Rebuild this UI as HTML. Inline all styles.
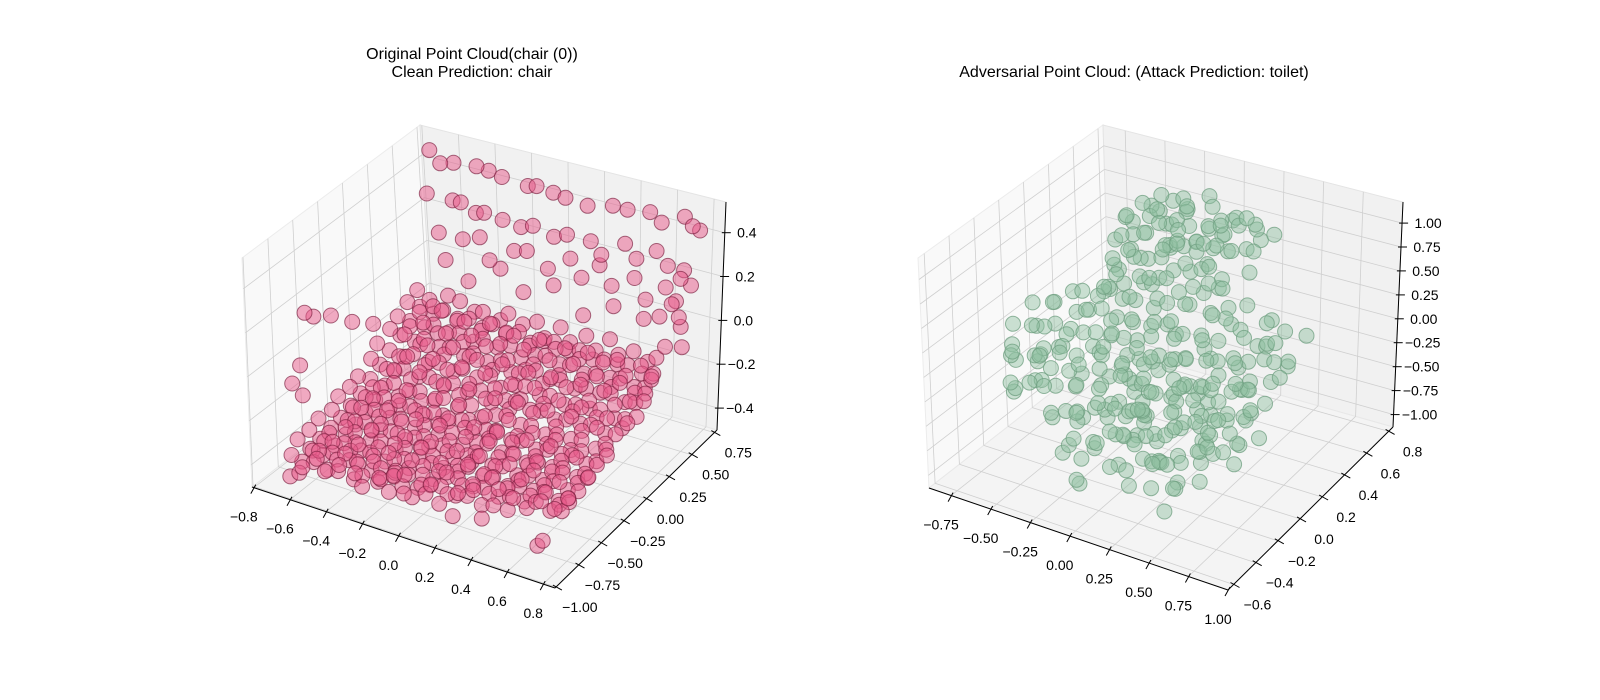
<!DOCTYPE html>
<html><head><meta charset="utf-8">
<style>
html,body{margin:0;padding:0;background:#fff;}
svg{display:block;font-family:"Liberation Sans","DejaVu Sans",sans-serif;}
</style></head>
<body>
<svg id="fig" width="1600" height="700" viewBox="0 0 1600 700" xmlns="http://www.w3.org/2000/svg">
<rect x="0" y="0" width="1600" height="700" fill="#fff"/>
<g id="left"></g>
<g id="right"></g>
<text x="472" y="59" font-size="16" text-anchor="middle">Original Point Cloud(chair (0))</text>
<text x="472" y="77" font-size="16" text-anchor="middle">Clean Prediction: chair</text>
<text x="1134" y="77" font-size="16" text-anchor="middle">Adversarial Point Cloud: (Attack Prediction: toilet)</text>
</svg>
<script>
// ---- data: left (chair) ----
const leftXTicks = [-0.8,-0.6,-0.4,-0.2,0.0,0.2,0.4,0.6,0.8];
const leftXLabels = ["−0.8","−0.6","−0.4","−0.2","0.0","0.2","0.4","0.6","0.8"];
const leftYTicks = [-1.0,-0.75,-0.5,-0.25,0.0,0.25,0.5,0.75];
const leftYLabels = ["−1.00","−0.75","−0.50","−0.25","0.00","0.25","0.50","0.75"];
const leftZTicks = [-0.4,-0.2,0.0,0.2,0.4];
const leftZLabels = ["−0.4","−0.2","0.0","0.2","0.4"];
const chairPoints = [
[-0.68,-0.84,-0.38],[-0.61,-0.86,-0.41],[-0.55,-0.82,-0.37],[-0.49,-0.85,-0.40],[-0.42,-0.83,-0.36],[-0.35,-0.8,-0.39],[-0.29,-0.84,-0.42],[-0.22,-0.79,-0.38],[-0.15,-0.77,-0.36],[-0.08,-0.8,-0.41],
[-0.7,-0.74,-0.35],[-0.63,-0.72,-0.39],[-0.57,-0.76,-0.36],[-0.5,-0.71,-0.4],[-0.43,-0.75,-0.34],[-0.37,-0.73,-0.38],[-0.3,-0.7,-0.36],[-0.24,-0.74,-0.41],[-0.17,-0.72,-0.37],[-0.1,-0.75,-0.35],[-0.03,-0.71,-0.39],[0.04,-0.74,-0.36],[0.11,-0.7,-0.4],[0.18,-0.72,-0.37],[0.25,-0.69,-0.35],
[-0.69,-0.64,-0.34],[-0.62,-0.62,-0.38],[-0.55,-0.66,-0.35],[-0.48,-0.61,-0.39],[-0.41,-0.65,-0.33],[-0.34,-0.63,-0.37],[-0.27,-0.6,-0.35],[-0.2,-0.66,-0.39],[-0.13,-0.62,-0.34],[-0.06,-0.64,-0.38],[0.01,-0.6,-0.36],[0.08,-0.65,-0.33],[0.15,-0.62,-0.38],[0.22,-0.64,-0.35],[0.29,-0.6,-0.39],[0.36,-0.63,-0.34],[0.43,-0.61,-0.37],[0.5,-0.6,-0.4],[0.57,-0.58,-0.36],[0.64,-0.57,-0.38],
[-0.7,-0.53,-0.33],[-0.63,-0.55,-0.37],[-0.56,-0.51,-0.34],[-0.49,-0.54,-0.38],[-0.42,-0.5,-0.32],[-0.35,-0.56,-0.36],[-0.28,-0.52,-0.34],[-0.21,-0.55,-0.38],[-0.14,-0.5,-0.33],[-0.07,-0.53,-0.37],[0.0,-0.56,-0.34],[0.07,-0.51,-0.38],[0.14,-0.54,-0.32],[0.21,-0.5,-0.36],[0.28,-0.55,-0.34],[0.35,-0.52,-0.38],[0.42,-0.5,-0.33],[0.49,-0.54,-0.37],[0.56,-0.51,-0.35],[0.63,-0.5,-0.39],[0.69,-0.52,-0.34],
[-0.68,-0.43,-0.32],[-0.61,-0.4,-0.36],[-0.54,-0.45,-0.33],[-0.47,-0.41,-0.37],[-0.4,-0.44,-0.31],[-0.33,-0.4,-0.35],[-0.26,-0.45,-0.33],[-0.19,-0.42,-0.37],[-0.12,-0.44,-0.32],[-0.05,-0.4,-0.36],[0.02,-0.43,-0.33],[0.09,-0.41,-0.37],[0.16,-0.45,-0.31],[0.23,-0.42,-0.35],[0.3,-0.4,-0.33],[0.37,-0.44,-0.37],[0.44,-0.41,-0.32],[0.51,-0.43,-0.36],[0.58,-0.4,-0.34],[0.65,-0.44,-0.38],
[-0.7,-0.33,-0.3],[-0.63,-0.31,-0.34],[-0.56,-0.35,-0.31],[-0.49,-0.3,-0.35],[-0.42,-0.34,-0.29],[-0.35,-0.32,-0.33],[-0.28,-0.3,-0.31],[-0.21,-0.35,-0.35],[-0.14,-0.31,-0.3],[-0.07,-0.34,-0.34],[0.0,-0.3,-0.32],[0.07,-0.33,-0.36],[0.14,-0.31,-0.3],[0.21,-0.35,-0.34],[0.28,-0.32,-0.32],[0.35,-0.3,-0.36],[0.42,-0.34,-0.31],[0.49,-0.31,-0.35],[0.56,-0.33,-0.33],[0.63,-0.3,-0.37],[0.7,-0.32,-0.32],
[-0.69,-0.23,-0.29],[-0.62,-0.2,-0.33],[-0.55,-0.25,-0.3],[-0.48,-0.21,-0.34],[-0.41,-0.24,-0.28],[-0.34,-0.2,-0.32],[-0.27,-0.25,-0.3],[-0.2,-0.22,-0.34],[-0.13,-0.24,-0.29],[-0.06,-0.2,-0.33],[0.01,-0.23,-0.3],[0.08,-0.21,-0.34],[0.15,-0.25,-0.28],[0.22,-0.22,-0.32],[0.29,-0.2,-0.3],[0.36,-0.24,-0.34],[0.43,-0.21,-0.29],[0.5,-0.23,-0.33],[0.57,-0.2,-0.31],[0.64,-0.24,-0.35],
[-0.7,-0.13,-0.28],[-0.63,-0.11,-0.32],[-0.56,-0.15,-0.29],[-0.49,-0.1,-0.33],[-0.42,-0.14,-0.27],[-0.35,-0.12,-0.31],[-0.28,-0.1,-0.29],[-0.21,-0.15,-0.33],[-0.14,-0.11,-0.28],[-0.07,-0.14,-0.32],[0.0,-0.1,-0.3],[0.07,-0.13,-0.34],[0.14,-0.11,-0.28],[0.21,-0.15,-0.32],[0.28,-0.12,-0.3],[0.35,-0.1,-0.34],[0.42,-0.14,-0.29],[0.49,-0.11,-0.33],[0.56,-0.13,-0.31],[0.63,-0.1,-0.35],[0.7,-0.12,-0.3],
[-0.68,-0.03,-0.23],[-0.61,0.0,-0.27],[-0.54,-0.05,-0.24],[-0.47,-0.01,-0.28],[-0.4,-0.04,-0.22],[-0.33,0.0,-0.26],[-0.26,-0.05,-0.24],[-0.19,-0.02,-0.28],[-0.12,-0.04,-0.23],[-0.05,0.0,-0.27],[0.02,-0.03,-0.24],[0.09,-0.01,-0.28],[0.16,-0.05,-0.22],[0.23,-0.02,-0.26],[0.3,0.0,-0.24],[0.37,-0.04,-0.28],[0.44,-0.01,-0.23],[0.51,-0.03,-0.27],[0.58,0.0,-0.25],[0.65,-0.04,-0.29],
[-0.7,0.07,-0.2],[-0.59,0.09,-0.24],[-0.52,0.05,-0.21],[-0.45,0.1,-0.25],[-0.38,0.06,-0.19],[-0.31,0.08,-0.23],[-0.24,0.1,-0.21],[-0.17,0.05,-0.25],[-0.1,0.09,-0.2],[-0.03,0.06,-0.24],[0.04,0.1,-0.22],[0.11,0.07,-0.26],[0.18,0.09,-0.2],[0.25,0.05,-0.24],[0.32,0.08,-0.22],[0.39,0.1,-0.26],[0.46,0.06,-0.21],[0.53,0.09,-0.25],[0.6,0.07,-0.23],[0.67,0.1,-0.27],[0.72,0.06,-0.22],
[-0.7,0.2,-0.18],[-0.6,0.17,-0.17],[-0.53,0.2,-0.21],[-0.46,0.15,-0.18],[-0.39,0.19,-0.22],[-0.32,0.16,-0.16],[-0.25,0.2,-0.2],[-0.18,0.15,-0.18],[-0.11,0.18,-0.22],[-0.04,0.16,-0.17],[0.03,0.2,-0.21],[0.1,0.17,-0.18],[0.17,0.19,-0.22],[0.24,0.15,-0.16],[0.31,0.18,-0.2],[0.38,0.2,-0.18],[0.45,0.16,-0.22],[0.52,0.19,-0.17],[0.59,0.17,-0.21],[0.66,0.2,-0.19],[0.72,0.16,-0.23],
[-0.7,0.28,-0.15],[-0.62,0.26,-0.17],[-0.55,0.27,-0.14],[-0.48,0.29,-0.18],[-0.41,0.25,-0.15],[-0.34,0.3,-0.19],[-0.27,0.26,-0.13],[-0.2,0.28,-0.17],[-0.13,0.3,-0.15],[-0.06,0.25,-0.19],[0.01,0.29,-0.14],[0.08,0.26,-0.18],[0.15,0.3,-0.16],[0.22,0.27,-0.2],[0.29,0.29,-0.14],[0.36,0.25,-0.18],[0.43,0.28,-0.16],[0.5,0.3,-0.2],[0.57,0.26,-0.15],[0.64,0.29,-0.19],[0.71,0.27,-0.17],
[-0.7,0.38,-0.12],[-0.62,0.36,-0.14],[-0.56,0.39,-0.11],[-0.5,0.37,-0.11],[-0.43,0.4,-0.15],[-0.36,0.35,-0.12],[-0.29,0.39,-0.16],[-0.22,0.36,-0.1],[-0.15,0.4,-0.14],[-0.08,0.35,-0.12],[-0.01,0.38,-0.16],[0.06,0.36,-0.11],[0.13,0.4,-0.15],[0.2,0.37,-0.12],[0.27,0.39,-0.16],[0.34,0.35,-0.1],[0.41,0.38,-0.14],[0.48,0.4,-0.12],[0.55,0.36,-0.16],[0.62,0.39,-0.11],[0.69,0.37,-0.15],
[-0.7,0.48,-0.1],[-0.62,0.46,-0.12],[-0.53,0.49,-0.09],[-0.45,0.47,-0.09],[-0.38,0.49,-0.13],[-0.31,0.45,-0.1],[-0.24,0.5,-0.14],[-0.17,0.46,-0.08],[-0.1,0.48,-0.12],[-0.03,0.5,-0.1],[0.04,0.45,-0.14],[0.11,0.49,-0.09],[0.18,0.46,-0.13],[0.25,0.5,-0.1],[0.32,0.47,-0.14],[0.39,0.49,-0.08],[0.46,0.45,-0.12],[0.53,0.48,-0.1],[0.6,0.5,-0.14],[0.67,0.46,-0.09],
[-0.65,-0.79,-0.42],[-0.58,-0.8,-0.4],[-0.52,-0.77,-0.43],[-0.45,-0.79,-0.41],[-0.38,-0.76,-0.44],[-0.32,-0.78,-0.4],[-0.25,-0.75,-0.42],[-0.18,-0.77,-0.44],[-0.12,-0.74,-0.41],[-0.05,-0.77,-0.43],[0.02,-0.76,-0.4],[0.09,-0.75,-0.43],
[-0.66,-0.69,-0.4],[-0.6,-0.67,-0.42],[-0.53,-0.7,-0.38],[-0.46,-0.66,-0.41],[-0.4,-0.69,-0.39],[-0.33,-0.67,-0.42],[-0.26,-0.7,-0.38],[-0.2,-0.68,-0.41],[-0.13,-0.66,-0.39],[-0.06,-0.69,-0.42],[0.0,-0.67,-0.4],[0.07,-0.69,-0.38],[0.14,-0.67,-0.41],[0.21,-0.68,-0.39],[0.28,-0.66,-0.42],[0.35,-0.67,-0.4],[0.42,-0.65,-0.41],
[-0.66,-0.59,-0.39],[-0.59,-0.57,-0.41],[-0.52,-0.6,-0.37],[-0.45,-0.56,-0.4],[-0.38,-0.59,-0.38],[-0.31,-0.57,-0.41],[-0.24,-0.6,-0.37],[-0.17,-0.58,-0.4],[-0.1,-0.56,-0.38],[-0.03,-0.59,-0.41],[0.04,-0.57,-0.39],[0.11,-0.59,-0.37],[0.18,-0.56,-0.4],[0.25,-0.58,-0.38],[0.32,-0.56,-0.41],[0.39,-0.57,-0.39],[0.46,-0.55,-0.4],[0.53,-0.56,-0.38],[0.6,-0.54,-0.41],[0.67,-0.55,-0.39],
[-0.66,-0.48,-0.38],[-0.59,-0.46,-0.4],[-0.52,-0.49,-0.36],[-0.45,-0.46,-0.39],[-0.38,-0.48,-0.37],[-0.31,-0.46,-0.4],[-0.24,-0.49,-0.36],[-0.17,-0.47,-0.39],[-0.1,-0.46,-0.37],[-0.03,-0.48,-0.4],[0.04,-0.46,-0.38],[0.11,-0.48,-0.36],[0.18,-0.46,-0.39],[0.25,-0.48,-0.37],[0.32,-0.46,-0.4],[0.39,-0.47,-0.38],[0.46,-0.45,-0.39],[0.53,-0.47,-0.37],[0.6,-0.45,-0.4],[0.67,-0.47,-0.38],
[-0.66,-0.38,-0.37],[-0.59,-0.36,-0.39],[-0.52,-0.39,-0.35],[-0.45,-0.36,-0.38],[-0.38,-0.38,-0.36],[-0.31,-0.36,-0.39],[-0.24,-0.39,-0.35],[-0.17,-0.37,-0.38],[-0.1,-0.36,-0.36],[-0.03,-0.38,-0.39],[0.04,-0.36,-0.37],[0.11,-0.38,-0.35],[0.18,-0.36,-0.38],[0.25,-0.38,-0.36],[0.32,-0.36,-0.39],[0.39,-0.37,-0.37],[0.46,-0.35,-0.38],[0.53,-0.37,-0.36],[0.6,-0.35,-0.39],[0.67,-0.37,-0.37],
[-0.66,-0.28,-0.35],[-0.59,-0.26,-0.37],[-0.52,-0.29,-0.33],[-0.45,-0.26,-0.36],[-0.38,-0.28,-0.34],[-0.31,-0.26,-0.37],[-0.24,-0.29,-0.33],[-0.17,-0.27,-0.36],[-0.1,-0.26,-0.34],[-0.03,-0.28,-0.37],[0.04,-0.26,-0.35],[0.11,-0.28,-0.33],[0.18,-0.26,-0.36],[0.25,-0.28,-0.34],[0.32,-0.26,-0.37],[0.39,-0.27,-0.35],[0.46,-0.25,-0.36],[0.53,-0.27,-0.34],[0.6,-0.25,-0.37],[0.67,-0.27,-0.35],
[-0.66,-0.18,-0.33],[-0.59,-0.16,-0.35],[-0.52,-0.19,-0.31],[-0.45,-0.16,-0.34],[-0.38,-0.18,-0.32],[-0.31,-0.16,-0.35],[-0.24,-0.19,-0.31],[-0.17,-0.17,-0.34],[-0.1,-0.16,-0.32],[-0.03,-0.18,-0.35],[0.04,-0.16,-0.33],[0.11,-0.18,-0.31],[0.18,-0.16,-0.34],[0.25,-0.18,-0.32],[0.32,-0.16,-0.35],[0.39,-0.17,-0.33],[0.46,-0.15,-0.34],[0.53,-0.17,-0.32],[0.6,-0.15,-0.35],[0.67,-0.17,-0.33],
[-0.66,-0.08,-0.3],[-0.59,-0.06,-0.32],[-0.52,-0.09,-0.28],[-0.45,-0.06,-0.31],[-0.38,-0.08,-0.29],[-0.31,-0.06,-0.32],[-0.24,-0.09,-0.28],[-0.17,-0.07,-0.31],[-0.1,-0.06,-0.29],[-0.03,-0.08,-0.32],[0.04,-0.06,-0.3],[0.11,-0.08,-0.28],[0.18,-0.06,-0.31],[0.25,-0.08,-0.29],[0.32,-0.06,-0.32],[0.39,-0.07,-0.3],[0.46,-0.05,-0.31],[0.53,-0.07,-0.29],[0.6,-0.05,-0.32],[0.67,-0.07,-0.3],
[-0.66,0.02,-0.27],[-0.59,0.04,-0.29],[-0.52,0.01,-0.25],[-0.45,0.04,-0.28],[-0.38,0.02,-0.26],[-0.31,0.04,-0.29],[-0.24,0.01,-0.25],[-0.17,0.03,-0.28],[-0.1,0.04,-0.26],[-0.03,0.02,-0.29],[0.04,0.04,-0.27],[0.11,0.02,-0.25],[0.18,0.04,-0.28],[0.25,0.02,-0.26],[0.32,0.04,-0.29],[0.39,0.03,-0.27],[0.46,0.05,-0.28],[0.53,0.03,-0.26],[0.6,0.05,-0.29],[0.67,0.03,-0.27],
[-0.66,0.12,-0.24],[-0.59,0.14,-0.26],[-0.52,0.11,-0.22],[-0.45,0.14,-0.25],[-0.38,0.12,-0.23],[-0.31,0.14,-0.26],[-0.24,0.11,-0.22],[-0.17,0.13,-0.25],[-0.1,0.14,-0.23],[-0.03,0.12,-0.26],[0.04,0.14,-0.24],[0.11,0.12,-0.22],[0.18,0.14,-0.25],[0.25,0.12,-0.23],[0.32,0.14,-0.26],[0.39,0.13,-0.24],[0.46,0.15,-0.25],[0.53,0.13,-0.23],[0.6,0.15,-0.26],[0.67,0.13,-0.24],
[-0.66,0.23,-0.21],[-0.59,0.25,-0.23],[-0.52,0.22,-0.19],[-0.45,0.25,-0.22],[-0.38,0.23,-0.2],[-0.31,0.25,-0.23],[-0.24,0.22,-0.19],[-0.17,0.24,-0.22],[-0.1,0.25,-0.2],[-0.03,0.23,-0.23],[0.04,0.25,-0.21],[0.11,0.23,-0.19],[0.18,0.25,-0.22],[0.25,0.23,-0.2],[0.32,0.25,-0.23],[0.39,0.24,-0.21],[0.46,0.26,-0.22],[0.53,0.24,-0.2],[0.6,0.26,-0.23],[0.67,0.24,-0.21],
[-0.66,0.33,-0.18],[-0.59,0.35,-0.2],[-0.52,0.32,-0.16],[-0.45,0.35,-0.19],[-0.38,0.33,-0.17],[-0.31,0.35,-0.2],[-0.24,0.32,-0.16],[-0.17,0.34,-0.19],[-0.1,0.35,-0.17],[-0.03,0.33,-0.2],[0.04,0.35,-0.18],[0.11,0.33,-0.16],[0.18,0.35,-0.19],[0.25,0.33,-0.17],[0.32,0.35,-0.2],[0.39,0.34,-0.18],[0.46,0.36,-0.19],[0.53,0.34,-0.17],[0.6,0.36,-0.2],[0.67,0.34,-0.18],
[-0.66,0.43,-0.15],[-0.59,0.44,-0.17],[-0.52,0.42,-0.13],[-0.45,0.44,-0.16],[-0.38,0.43,-0.14],[-0.31,0.44,-0.17],[-0.24,0.42,-0.13],[-0.17,0.43,-0.16],[-0.1,0.44,-0.14],[-0.03,0.43,-0.17],[0.04,0.44,-0.15],[0.11,0.42,-0.13],[0.18,0.44,-0.16],[0.25,0.43,-0.14],[0.32,0.44,-0.17],[0.39,0.43,-0.15],[0.46,0.44,-0.16],[0.53,0.42,-0.14],[0.6,0.44,-0.17],[0.67,0.43,-0.15],
[-0.72,0.7,0.47],[-0.64,0.66,0.44],[-0.6,0.72,0.43],[-0.45,0.68,0.46],[-0.4,0.71,0.44],[-0.3,0.66,0.45],[-0.18,0.7,0.42],[-0.12,0.68,0.44],[-0.05,0.72,0.41],[0.05,0.66,0.43],[0.15,0.7,0.4],[0.3,0.68,0.44],[0.36,0.72,0.42],[0.5,0.69,0.45],[0.58,0.66,0.43],[0.68,0.71,0.46],[0.74,0.68,0.44],[0.76,0.72,0.41],
[-0.7,0.62,0.3],[-0.58,0.66,0.28],[-0.5,0.6,0.31],[-0.44,0.64,0.26],[-0.36,0.58,0.3],[-0.28,0.62,0.27],[-0.2,0.66,0.24],[-0.1,0.6,0.29],[0.0,0.63,0.25],[0.1,0.58,0.3],[0.2,0.64,0.27],[0.28,0.6,0.24],[0.38,0.66,0.29],[0.47,0.61,0.26],[0.56,0.65,0.3],[0.65,0.6,0.27],[0.72,0.64,0.25],
[-0.62,0.58,0.15],[-0.52,0.64,0.12],[-0.4,0.6,0.17],[-0.32,0.55,0.1],[-0.22,0.62,0.14],[-0.12,0.57,0.18],[-0.02,0.6,0.11],[0.08,0.65,0.16],[0.18,0.58,0.12],[0.26,0.62,0.18],[0.36,0.56,0.13],[0.45,0.63,0.16],[0.54,0.58,0.1],[0.62,0.64,0.15],[0.7,0.6,0.12],[0.75,0.66,0.18],
[-0.6,0.6,0.02],[-0.45,0.56,-0.03],[-0.3,0.62,0.04],[-0.15,0.58,-0.02],[0.0,0.62,0.03],[0.2,0.56,-0.04],[0.35,0.6,0.02],[0.5,0.64,-0.02],[0.62,0.58,0.04],[0.72,0.62,0.0],[0.76,0.56,-0.06],
[0.78,0.4,0.2],[0.8,0.3,0.05],[0.78,0.2,-0.05],[0.8,0.45,0.3],[0.79,0.1,-0.12],[0.77,0.5,0.1],
[-0.74,-0.55,0.15],[-0.72,-0.5,0.12],[-0.68,-0.4,0.1],[-0.62,-0.3,0.05],[-0.56,-0.2,0.02],[-0.72,-0.65,-0.05],[-0.74,-0.7,-0.12],[-0.73,-0.62,-0.2],
[0.62,-0.72,-0.49],[0.64,-0.7,-0.47],[-0.68,-0.86,-0.47],[-0.64,-0.84,-0.45],[0.18,-0.78,-0.45],[0.3,-0.7,-0.46]
];
// ---- data: right (toilet / adversarial) ----
const rightXTicks = [-0.75,-0.5,-0.25,0.0,0.25,0.5,0.75,1.0];
const rightXLabels = ["−0.75","−0.50","−0.25","0.00","0.25","0.50","0.75","1.00"];
const rightYTicks = [-0.6,-0.4,-0.2,0.0,0.2,0.4,0.6,0.8];
const rightYLabels = ["−0.6","−0.4","−0.2","0.0","0.2","0.4","0.6","0.8"];
const rightZTicks = [-1.0,-0.75,-0.5,-0.25,0.0,0.25,0.5,0.75,1.0];
const rightZLabels = ["−1.00","−0.75","−0.50","−0.25","0.00","0.25","0.50","0.75","1.00"];
const toiletPoints = [
[-0.3,0.55,1.02],[-0.2,0.6,0.98],[-0.1,0.5,1.04],[0.0,0.58,1.0],[0.1,0.52,0.96],[-0.38,0.5,0.95],[0.2,0.6,0.95],[-0.25,0.45,0.99],[-0.05,0.62,1.05],[0.15,0.45,1.0],
[-0.45,0.45,0.82],[-0.35,0.6,0.78],[-0.28,0.38,0.8],[-0.18,0.52,0.84],[-0.1,0.42,0.76],[0.0,0.55,0.8],[0.08,0.4,0.83],[-0.4,0.35,0.75],[-0.22,0.66,0.8],[0.05,0.68,0.78],[-0.32,0.48,0.86],[-0.05,0.35,0.82],
[-0.48,0.4,0.62],[-0.4,0.55,0.58],[-0.3,0.32,0.6],[-0.2,0.45,0.64],[-0.12,0.6,0.56],[-0.02,0.38,0.6],[0.05,0.52,0.65],[-0.35,0.65,0.6],[-0.25,0.55,0.52],[0.1,0.42,0.58],[-0.42,0.3,0.55],[0.0,0.66,0.62],
[0.15,0.6,0.85],[0.22,0.66,0.78],[0.18,0.5,0.7],[0.26,0.58,0.65],[0.2,0.72,0.6],[0.28,0.52,0.5],[0.14,0.68,0.52],[0.24,0.62,0.88],[0.3,0.7,0.72],[0.12,0.55,0.62],
[-0.45,0.35,0.42],[-0.35,0.5,0.38],[-0.25,0.3,0.44],[-0.15,0.45,0.4],[-0.05,0.6,0.36],[0.05,0.35,0.42],[0.12,0.5,0.38],[-0.3,0.62,0.4],[-0.4,0.2,0.36],[0.2,0.4,0.42],[0.0,0.2,0.38],[-0.2,0.15,0.4],
[-0.34,0.52,0.92],[-0.15,0.56,0.9],[0.05,0.48,0.92],[-0.28,0.62,0.9],[-0.08,0.4,0.9],[0.12,0.62,0.9],[-0.42,0.42,0.88],[-0.2,0.4,0.92],
[-0.38,0.42,0.7],[-0.26,0.58,0.7],[-0.14,0.35,0.72],[-0.04,0.5,0.7],[0.06,0.6,0.72],[-0.32,0.3,0.68],[-0.18,0.62,0.68],[0.02,0.42,0.7],[-0.46,0.52,0.7],[0.1,0.48,0.74],
[-0.42,0.45,0.5],[-0.32,0.4,0.5],[-0.2,0.6,0.48],[-0.08,0.3,0.5],[0.02,0.46,0.48],[-0.15,0.25,0.52],[0.15,0.35,0.5],[-0.36,0.25,0.46],[0.06,0.22,0.5],[-0.25,0.48,0.46],
[-0.35,0.3,0.32],[-0.22,0.42,0.32],[-0.1,0.25,0.33],[0.08,0.4,0.32],[-0.5,0.15,0.32],[0.25,0.25,0.32],[-0.3,0.05,0.33],[0.1,0.1,0.34],[-0.12,0.55,0.3],
[-0.65,0.1,0.18],[-0.55,-0.1,0.17],[-0.48,0.25,0.18],[-0.36,-0.2,0.16],[-0.28,0.3,0.18],[-0.2,0.0,0.17],[-0.05,-0.3,0.18],[0.0,0.2,0.16],[0.12,-0.1,0.18],[0.26,0.15,0.17],[0.34,-0.2,0.16],[0.45,0.25,0.18],[0.55,-0.15,0.17],[0.6,0.4,0.16],[-0.42,-0.35,0.18],[0.2,0.45,0.17],
[-0.68,-0.2,0.02],[-0.6,0.05,0.03],[-0.52,-0.15,0.01],[-0.44,0.4,0.02],[-0.36,0.2,0.03],[-0.26,-0.2,0.02],[-0.16,0.3,0.01],[-0.06,-0.1,0.03],[0.06,0.05,0.02],[0.14,0.3,0.01],[0.22,-0.25,0.03],[0.3,0.42,0.02],[0.42,0.2,0.01],[0.5,-0.1,0.03],[0.58,0.25,0.02],[0.66,0.0,0.01],[-0.38,-0.45,0.02],[0.05,-0.45,0.03],
[-0.66,0.3,-0.12],[-0.58,-0.1,-0.13],[-0.5,0.15,-0.11],[-0.42,-0.3,-0.12],[-0.32,0.05,-0.13],[-0.22,0.35,-0.11],[-0.12,-0.2,-0.12],[-0.02,0.1,-0.13],[0.08,-0.35,-0.11],[0.16,0.3,-0.12],[0.26,0.0,-0.13],[0.36,-0.25,-0.11],[0.44,0.3,-0.12],[0.52,0.05,-0.13],[0.62,-0.2,-0.11],[0.68,0.25,-0.12],
[-0.62,0.1,-0.27],[-0.54,-0.2,-0.28],[-0.44,0.3,-0.26],[-0.36,-0.05,-0.27],[-0.26,0.2,-0.28],[-0.16,-0.35,-0.26],[-0.06,0.0,-0.27],[0.04,0.3,-0.28],[0.14,-0.2,-0.26],[0.22,0.1,-0.27],[0.34,0.35,-0.28],[0.44,-0.1,-0.26],[0.52,0.2,-0.27],[0.6,-0.35,-0.28],[0.64,0.05,-0.26],
[-0.3,0.1,-0.42],[-0.2,-0.3,-0.43],[-0.1,0.25,-0.41],[0.0,-0.1,-0.42],[0.1,0.2,-0.43],[0.2,-0.35,-0.41],[0.3,0.05,-0.42],[0.4,0.3,-0.43],[0.48,-0.1,-0.41],[0.56,0.1,-0.42],[-0.4,-0.05,-0.42],
[-0.28,-0.15,-0.58],[-0.18,0.15,-0.57],[-0.08,-0.3,-0.59],[0.02,0.2,-0.58],[0.12,-0.15,-0.57],[0.22,0.25,-0.59],[0.32,-0.3,-0.58],[0.42,0.0,-0.57],[0.5,0.2,-0.59],[-0.1,0.0,-0.58],
[-0.28,0.15,-0.72],[-0.18,-0.2,-0.73],[-0.08,0.1,-0.71],[0.04,-0.35,-0.72],[0.14,0.15,-0.73],[0.24,-0.2,-0.71],[0.34,0.25,-0.72],[0.44,-0.35,-0.73],[0.52,0.1,-0.71],[0.0,-0.1,-0.72],
[-0.22,-0.25,-0.87],[-0.12,0.15,-0.86],[-0.02,-0.2,-0.88],[0.08,0.2,-0.87],[0.18,-0.1,-0.86],[0.28,0.15,-0.88],[0.38,-0.25,-0.87],[0.46,0.2,-0.86],[0.36,0.0,-0.88],
[-0.7,0.0,0.25],[-0.6,0.2,0.22],[-0.55,-0.2,0.28],[-0.45,0.3,0.24],[-0.4,0.05,0.27],[-0.3,-0.3,0.22],[-0.25,0.4,0.26],[-0.15,0.1,0.24],[-0.1,-0.2,0.28],[0.0,0.35,0.22],[0.05,0.0,0.26],[0.12,-0.35,0.24],[0.2,0.3,0.27],[0.25,-0.1,0.22],[0.32,0.45,0.25],[0.4,0.1,0.28],[0.45,-0.3,0.23],[0.52,0.35,0.26],[0.58,0.0,0.24],[0.65,0.25,0.22],[-0.5,0.45,0.25],[0.1,0.5,0.28],[-0.35,-0.4,0.26],[0.35,-0.4,0.24],
[-0.75,-0.1,0.1],[-0.68,0.15,0.12],[-0.6,-0.3,0.08],[-0.52,0.35,0.11],[-0.45,-0.05,0.09],[-0.38,0.5,0.12],[-0.32,-0.35,0.1],[-0.22,0.2,0.08],[-0.15,-0.15,0.12],[-0.05,0.45,0.09],[0.02,-0.4,0.11],[0.08,0.15,0.1],[0.15,-0.2,0.08],[0.22,0.4,0.12],[0.3,-0.45,0.09],[0.36,0.05,0.11],[0.44,0.5,0.1],[0.5,-0.25,0.08],[0.56,0.3,0.12],[0.62,-0.05,0.1],[0.68,0.2,0.09],[0.7,0.45,0.11],[-0.25,-0.5,0.1],[0.2,0.0,0.1],
[-0.72,0.05,-0.05],[-0.65,-0.25,-0.03],[-0.58,0.3,-0.06],[-0.5,-0.45,-0.04],[-0.42,0.15,-0.07],[-0.35,-0.1,-0.03],[-0.28,0.45,-0.05],[-0.2,-0.3,-0.06],[-0.12,0.1,-0.04],[-0.05,-0.5,-0.07],[0.02,0.3,-0.03],[0.1,-0.15,-0.05],[0.18,0.5,-0.06],[0.25,-0.35,-0.04],[0.32,0.2,-0.07],[0.4,-0.05,-0.03],[0.48,0.4,-0.05],[0.55,-0.3,-0.06],[0.6,0.1,-0.04],[0.66,0.35,-0.07],[-0.6,0.5,-0.05],[0.0,0.0,-0.05],
[-0.7,-0.15,-0.2],[-0.62,0.2,-0.18],[-0.55,-0.35,-0.22],[-0.48,0.4,-0.19],[-0.4,-0.1,-0.21],[-0.32,0.25,-0.18],[-0.25,-0.45,-0.22],[-0.18,0.05,-0.2],[-0.1,0.4,-0.19],[-0.02,-0.25,-0.21],[0.05,0.15,-0.18],[0.12,-0.45,-0.22],[0.2,0.3,-0.2],[0.28,-0.1,-0.19],[0.35,0.5,-0.21],[0.42,-0.3,-0.18],[0.5,0.15,-0.22],[0.56,-0.15,-0.2],[0.62,0.4,-0.19],[0.66,-0.35,-0.21],
[-0.68,0.0,-0.35],[-0.6,-0.3,-0.33],[-0.52,0.25,-0.36],[-0.45,-0.15,-0.34],[-0.35,0.4,-0.37],[-0.28,-0.4,-0.33],[-0.2,0.1,-0.35],[-0.1,-0.2,-0.36],[0.0,0.35,-0.34],[0.08,-0.35,-0.37],[0.15,0.05,-0.33],[0.25,0.3,-0.35],[0.32,-0.25,-0.36],[0.4,0.1,-0.34],[0.48,-0.45,-0.37],[0.55,0.35,-0.33],[0.62,-0.1,-0.35],
[-0.35,-0.2,-0.5],[-0.25,0.2,-0.52],[-0.15,-0.4,-0.48],[-0.05,0.05,-0.51],[0.05,-0.25,-0.49],[0.15,0.3,-0.52],[0.25,-0.1,-0.5],[0.35,-0.4,-0.48],[0.42,0.15,-0.51],[0.5,-0.2,-0.49],[0.55,0.3,-0.5],[-0.3,0.35,-0.49],
[-0.32,0.0,-0.65],[-0.22,-0.35,-0.63],[-0.12,0.25,-0.66],[-0.02,-0.15,-0.64],[0.08,0.35,-0.67],[0.18,-0.4,-0.63],[0.28,0.1,-0.65],[0.38,-0.2,-0.66],[0.46,0.3,-0.64],[0.54,-0.05,-0.63],[-0.2,-0.05,-0.64],[0.1,-0.05,-0.66],
[-0.3,-0.3,-0.8],[-0.2,0.1,-0.78],[-0.1,-0.45,-0.82],[0.0,0.25,-0.79],[0.1,-0.15,-0.81],[0.2,0.3,-0.78],[0.3,-0.35,-0.8],[0.4,0.05,-0.82],[0.5,-0.2,-0.79],[0.55,0.25,-0.8],[-0.05,0.0,-0.8],[0.25,-0.05,-0.81],
[-0.25,-0.1,-0.93],[-0.12,-0.4,-0.92],[0.0,0.1,-0.94],[0.12,-0.3,-0.92],[0.22,0.2,-0.93],[0.32,-0.15,-0.94],[0.42,-0.4,-0.92],[0.5,0.1,-0.93],[-0.18,0.25,-0.92],[0.08,-0.05,-0.95]
];

const NS = "http://www.w3.org/2000/svg";
function mk(tag, attrs, parent){
  const e = document.createElementNS(NS, tag);
  for (const k in attrs) e.setAttribute(k, attrs[k]);
  parent.appendChild(e);
  return e;
}

function drawPanel(g, cfg){
  const C = cfg.corners;
  const lerp=(a,b,t)=>[a[0]+(b[0]-a[0])*t, a[1]+(b[1]-a[1])*t];
  function projN(u,v,w){
    const b = lerp(lerp(C.c000,C.c100,u), lerp(C.c010,C.c110,u), v);
    const t = lerp(lerp(C.c001,C.c101,u), lerp(C.c011,C.c111,u), v);
    return lerp(b,t,w);
  }
  const nx=x=>(x-cfg.xr[0])/(cfg.xr[1]-cfg.xr[0]);
  const ny=y=>(y-cfg.yr[0])/(cfg.yr[1]-cfg.yr[0]);
  const nz=z=>(z-cfg.zr[0])/(cfg.zr[1]-cfg.zr[0]);
  const proj=(x,y,z)=>projN(nx(x),ny(y),nz(z));
  const pts=a=>a.map(p=>p[0].toFixed(1)+","+p[1].toFixed(1)).join(" ");
  const pX = mk("polygon",{points:pts([projN(0,0,0),projN(0,1,0),projN(0,1,1),projN(0,0,1)]),fill:"#f9f9f9",stroke:"#ececec"},g);
  
  
  const pY = mk("polygon",{points:pts([projN(0,1,0),projN(1,1,0),projN(1,1,1),projN(0,1,1)]),fill:"#f1f1f1",stroke:"#e4e4e4"},g);
  
  
  const pZ = mk("polygon",{points:pts([projN(0,0,0),projN(1,0,0),projN(1,1,0),projN(0,1,0)]),fill:"#f4f4f4",stroke:"#e8e8e8"},g);
  
  
  const grid = mk("g",{stroke:"#cfcfcf","stroke-width":"0.8",fill:"none"},g);
  
  
  const line=(a,b,par,attrs)=>mk("line",Object.assign({x1:a[0].toFixed(1),y1:a[1].toFixed(1),x2:b[0].toFixed(1),y2:b[1].toFixed(1)},attrs||{}),par);
  cfg.xt.forEach(t=>{const u=nx(t); line(projN(u,0,0),projN(u,1,0),grid); line(projN(u,1,0),projN(u,1,1),grid);});
  cfg.yt.forEach(t=>{const v=ny(t); line(projN(0,v,0),projN(1,v,0),grid); line(projN(0,v,0),projN(0,v,1),grid);});
  cfg.zt.forEach(t=>{const w=nz(t); line(projN(0,0,w),projN(0,1,w),grid); line(projN(0,1,w),projN(1,1,w),grid);});
  const ax = mk("g",{stroke:"#000","stroke-width":"1"},g);
  
  
  line(projN(0,0,0),projN(1,0,0),ax);
  line(projN(1,0,0),projN(1,1,0),ax);
  line(projN(1,1,0),projN(1,1,1),ax);
  const lab = mk("g",{"font-size":"14",fill:"#000","text-anchor":"middle"},g);
  
  
  cfg.xt.forEach((t,i)=>{const p=proj(t,cfg.yr[0],cfg.zr[0]); line([p[0]+2,p[1]-3],[p[0]-3,p[1]+6],ax);
    const e=mk("text",{x:(p[0]-10).toFixed(1),y:(p[1]+34).toFixed(1)},lab); e.textContent=cfg.xl[i];
    
    });
  cfg.yt.forEach((t,i)=>{const p=proj(cfg.xr[1],t,cfg.zr[0]); line([p[0]-3,p[1]-2],[p[0]+6,p[1]+3],ax);
    const e=mk("text",{x:(p[0]+24).toFixed(1),y:(p[1]+25).toFixed(1)},lab); e.textContent=cfg.yl[i];
    
    });
  cfg.zt.forEach((t,i)=>{const p=proj(cfg.xr[1],cfg.yr[1],t); line([p[0]-3,p[1]],[p[0]+6,p[1]],ax);
    const e=mk("text",{x:(p[0]+cfg.zlOff).toFixed(1),y:(p[1]+5).toFixed(1)},lab); e.textContent=cfg.zl[i];
    
    });
  const view=[0.433,-0.75,0.5];
  const order = cfg.data.map((p,i)=>({i, d:nx(p[0])*view[0]+ny(p[1])*view[1]+nz(p[2])*view[2]})).sort((a,b)=>a.d-b.d);
  const sg = mk("g",{},g);
  
  
  order.forEach(o=>{
    const p=cfg.data[o.i]; const s=proj(p[0],p[1],p[2]);
    const c=mk("circle",{cx:s[0].toFixed(1),cy:s[1].toFixed(1),r:"7.5",fill:cfg.fill,"fill-opacity":cfg.fa,stroke:cfg.stroke,"stroke-opacity":cfg.sa,"stroke-width":"1"},sg);
    
    
  });
}

drawPanel(document.getElementById('left'),{
  corners:{c000:[252,487],c100:[555,588],c110:[717,430],c010:[433,347],c001:[242,258],c101:[552,348],c111:[726,202],c011:[420,125]},
  xr:[-0.81,0.865], yr:[-1.01,0.78], zr:[-0.5,0.54],
  xt:leftXTicks, xl:leftXLabels, yt:leftYTicks, yl:leftYLabels, zt:leftZTicks, zl:leftZLabels, zlOff:22,
  data:chairPoints, fill:"#e75a8a", fa:"0.5", stroke:"#7a1d3d", sa:"0.65"
});
drawPanel(document.getElementById('right'),{
  corners:{c000:[929,488],c100:[1228,590],c110:[1393,427],c010:[1110,347],c001:[918,258],c101:[1225,350],c111:[1403,202],c011:[1103,125]},
  xr:[-0.89,1.0], yr:[-0.65,0.84], zr:[-1.13,1.22],
  xt:rightXTicks, xl:rightXLabels, yt:rightYTicks, yl:rightYLabels, zt:rightZTicks, zl:rightZLabels, zlOff:26,
  data:toiletPoints, fill:"#8fbf9f", fa:"0.45", stroke:"#6f9f80", sa:"0.75"
});
</script>
</body></html>
